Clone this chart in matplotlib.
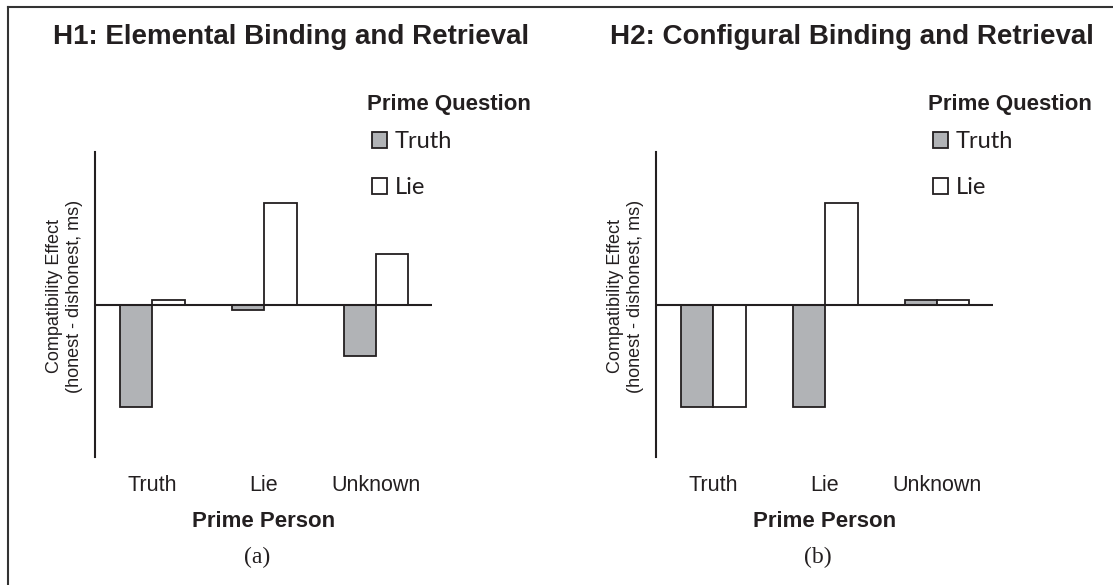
import numpy as np
import matplotlib
matplotlib.use("Agg")
import matplotlib.pyplot as plt
from matplotlib.lines import Line2D

# data
persons = ["Truth", "Lie", "Unknown"]
h1_truth = [-100, -5, -50]
h1_lie = [5, 100, 50]
h2_truth = [-100, -100, 5]
h2_lie = [-100, 100, 5]

titles = ["H1: Elemental Binding and Retrieval", "H2: Configural Binding and Retrieval"]
panel_tags = ["(a)", "(b)"]

gray = "#b1b3b6"
ink = "#231f20"
W, H = 1113, 585

plt.rcParams["font.family"] = ["Liberation Sans", "DejaVu Sans"]

fig = plt.figure(figsize=(W / 100, H / 100), dpi=100)

def px(x, y):
    return x / W, 1 - y / H

panels = [(95, h1_truth, h1_lie), (656, h2_truth, h2_lie)]
x = np.arange(len(persons))
bw = 0.29

for i, (left, tv, lv) in enumerate(panels):
    ax = fig.add_axes([left / W, 1 - 456.7 / H, 337 / W, (456.7 - 152) / H])
    b1 = ax.bar(x - bw / 2, tv, bw, color=gray, edgecolor=ink, linewidth=1.3, label="Truth")
    b2 = ax.bar(x + bw / 2, lv, bw, color="white", edgecolor=ink, linewidth=1.3, label="Lie")
    ax.axhline(0, color=ink, lw=1.5)
    ax.set_xlim(-0.51, 2.5)
    ax.set_ylim(-149, 150)
    for s in ["top", "right", "bottom"]:
        ax.spines[s].set_visible(False)
    ax.spines["left"].set_color(ink)
    ax.spines["left"].set_linewidth(1.5)
    ax.set_yticks([])
    ax.set_xticks(x, persons)
    ax.tick_params(axis="x", length=0, pad=13, labelsize=15.5, labelcolor=ink)
    ax.set_xlabel("Prime Person", fontsize=16, fontweight="bold", color=ink, labelpad=11)

    fig.text(*px(left - 30.5, 296), "Compatibility Effect\n(honest - dishonest, ms)",
             rotation=90, ha="center", va="center", fontsize=13, color=ink,
             multialignment="center", linespacing=1.3)
    fig.text(*px(left + 196, 36.5), titles[i], ha="center", va="center",
             fontsize=20, fontweight="bold", color=ink)
    fig.text(*px(left + 162, 557), panel_tags[i], ha="center", va="center",
             fontsize=17, family="Liberation Serif", color=ink)

    fig.text(*px(left + 272, 104.5), "Prime Question", ha="left", va="center",
             fontsize=16, fontweight="bold", color=ink)
    leg = ax.legend(handles=[b1, b2], loc="upper left",
                    bbox_to_anchor=px(left + 277, 131), bbox_transform=fig.transFigure,
                    frameon=False, borderpad=0, borderaxespad=0,
                    handlelength=0.65, handleheight=0.65,
                    handletextpad=0.3, labelspacing=1.08,
                    prop={"family": "Lato", "size": 17})
    for t in leg.get_texts():
        t.set_color(ink)

# frame lines of the original figure (top and left edge)
fig.add_artist(Line2D([8 / W, 1], [1 - 7 / H, 1 - 7 / H], color="#333333", lw=1.5, transform=fig.transFigure))
fig.add_artist(Line2D([8 / W, 8 / W], [0, 1 - 7 / H], color="#333333", lw=1.5, transform=fig.transFigure))

fig.savefig("out.png", dpi=100, facecolor="white")
